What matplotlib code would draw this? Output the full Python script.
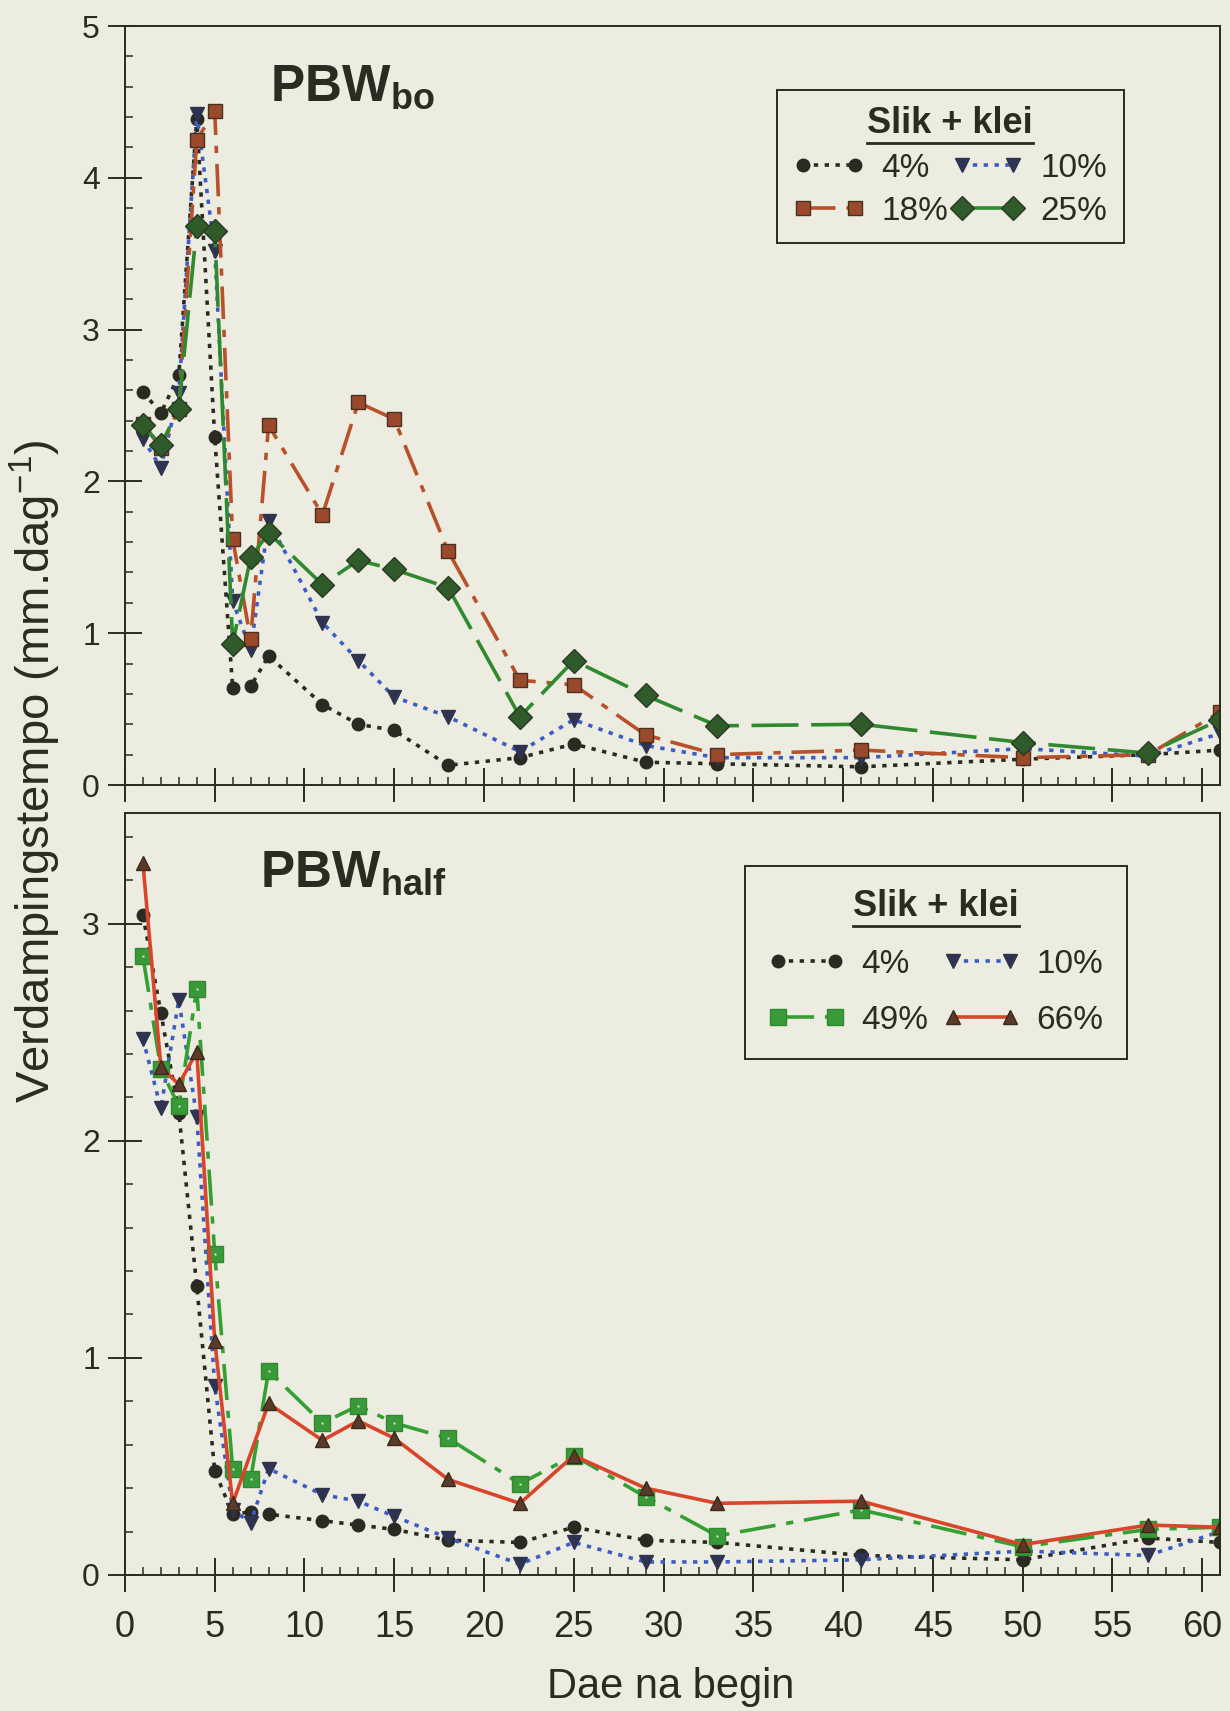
import numpy as np
import matplotlib
matplotlib.use("Agg")
import matplotlib.pyplot as plt
from matplotlib.ticker import MultipleLocator
from matplotlib.lines import Line2D

plt.rcParams["font.family"] = ["Liberation Sans", "DejaVu Sans"]
plt.rcParams["mathtext.fontset"] = "custom"
plt.rcParams["mathtext.rm"] = "Liberation Sans"
plt.rcParams["mathtext.bf"] = "Liberation Sans:bold"

# dae na begin
dae = [1, 2, 3, 4, 5, 6, 7, 8, 11, 13, 15, 18, 22, 25, 29, 33, 41, 50, 57, 61]
dae_66 = [1, 2, 3, 4, 5, 6, 8, 11, 13, 15, 18, 22, 25, 29, 33, 41, 50, 57, 61]

# PBW bo
bo_4 = [2.59, 2.45, 2.70, 4.39, 2.29, 0.64, 0.65, 0.85, 0.53, 0.40, 0.36, 0.13,
        0.18, 0.27, 0.15, 0.14, 0.12, 0.17, 0.20, 0.23]
bo_10 = [2.28, 2.09, 2.58, 4.42, 3.52, 1.21, 0.89, 1.74, 1.07, 0.82, 0.58, 0.45,
         0.22, 0.43, 0.26, 0.18, 0.18, 0.24, 0.19, 0.34]
bo_18 = [2.38, 2.22, 2.48, 4.25, 4.44, 1.62, 0.96, 2.37, 1.78, 2.52, 2.41, 1.54,
         0.69, 0.66, 0.33, 0.20, 0.23, 0.18, 0.20, 0.48]
bo_25 = [2.37, 2.24, 2.48, 3.68, 3.65, 0.93, 1.50, 1.66, 1.32, 1.48, 1.42, 1.30,
         0.45, 0.82, 0.59, 0.39, 0.40, 0.28, 0.21, 0.43]

# PBW half
half_4 = [3.04, 2.59, 2.13, 1.33, 0.48, 0.28, 0.29, 0.28, 0.25, 0.23, 0.21, 0.16,
          0.15, 0.22, 0.16, 0.15, 0.09, 0.07, 0.17, 0.15]
half_10 = [2.47, 2.15, 2.65, 2.11, 0.87, 0.30, 0.24, 0.49, 0.37, 0.34, 0.27, 0.17,
           0.05, 0.15, 0.06, 0.06, 0.07, 0.11, 0.09, 0.20]
half_49 = [2.85, 2.33, 2.16, 2.70, 1.48, 0.49, 0.44, 0.94, 0.70, 0.78, 0.70, 0.63,
           0.42, 0.55, 0.36, 0.18, 0.30, 0.13, 0.21, 0.22]
half_66 = [3.28, 2.34, 2.26, 2.41, 1.08, 0.33, 0.79, 0.62, 0.71, 0.63, 0.44, 0.33,
           0.55, 0.40, 0.33, 0.34, 0.14, 0.23, 0.22]

bg = "#ecece0"
ink = "#2b2b22"

fig = plt.figure(figsize=(12.3, 17.11), dpi=100, facecolor=bg)
ax1 = fig.add_axes([0.1016, 0.5412, 0.8903, 0.4436], facecolor=bg)
ax2 = fig.add_axes([0.1016, 0.0795, 0.8903, 0.4453], facecolor=bg)


def opmaak(ax, ytop, ymajor):
    ax.set_xlim(0, 61)
    ax.set_ylim(0, ytop)
    ax.xaxis.set_major_locator(MultipleLocator(5))
    ax.xaxis.set_minor_locator(MultipleLocator(1))
    ax.yaxis.set_major_locator(MultipleLocator(ymajor))
    ax.yaxis.set_minor_locator(MultipleLocator(0.2))
    ax.tick_params(which="major", direction="inout", length=24, width=1.4, color=ink)
    ax.tick_params(which="minor", direction="in", length=6, width=1.1, color=ink)
    ax.tick_params(axis="x", which="major", labelsize=26, pad=13, labelcolor=ink)
    ax.tick_params(axis="y", which="major", labelsize=23, pad=6, labelcolor=ink)
    for s in ax.spines.values():
        s.set_color(ink)
        s.set_linewidth(1.4)


opmaak(ax1, 5, 1)
opmaak(ax2, 3.51, 1)
ax1.tick_params(axis="x", labelbottom=False)
ax2.set_yticks([0, 1, 2, 3])

ms = dict(markersize=9)
l4, = ax1.plot(dae, bo_4, color="#2a2a22", lw=2.6, ls=(0, (1.2, 1.8)),
               marker="o", mfc="#2a2a22", mec="#2a2a22", **ms)
l10, = ax1.plot(dae, bo_10, color="#3b5cc4", lw=2.6, ls=(0, (1.2, 1.8)),
                marker="v", mfc="#2e3350", mec="#2e3350", markersize=10)
l18, = ax1.plot(dae, bo_18, color="#b8502a", lw=2.6, ls=(0, (9, 3, 2, 3)),
                marker="s", mfc="#9a4a2a", mec="#4a3020", markersize=10)
l25, = ax1.plot(dae, bo_25, color="#2f8a2f", lw=2.6, ls=(0, (13, 3.5)),
                marker="D", mfc="#2f5a2a", mec="#2a3a22", markersize=12)

h4, = ax2.plot(dae, half_4, color="#2a2a22", lw=2.6, ls=(0, (1.2, 1.8)),
               marker="o", mfc="#2a2a22", mec="#2a2a22", **ms)
h10, = ax2.plot(dae, half_10, color="#3b5cc4", lw=2.6, ls=(0, (1.2, 1.8)),
                marker="v", mfc="#2e3350", mec="#2e3350", markersize=10)
h49, = ax2.plot(dae, half_49, color="#33a033", lw=2.6, ls=(0, (10, 3, 2, 3)),
                marker="s", mfc="#3a9a3a", mec="#2f8a2f", markersize=11)
ax2.plot(dae, half_49, ls="none", marker="s", mfc="#d8e8c8", mec="none", markersize=2)
h66, = ax2.plot(dae_66, half_66, color="#d8452a", lw=2.6, ls="-",
                marker="^", mfc="#5a3a28", mec="#3a2a1a", markersize=10)

ax1.text(8.1, 4.51, r"$\mathbf{PBW}_{\mathbf{bo}}$", fontsize=37, color=ink)
ax2.text(7.5, 3.17, r"$\mathbf{PBW}_{\mathbf{half}}$", fontsize=37, color=ink)

leg_kw = dict(ncol=2, title="Slik + klei", numpoints=2, handletextpad=0.5,
              fancybox=False, framealpha=1, facecolor=bg, edgecolor=ink,
              loc="upper right", borderaxespad=0, fontsize=24)
leg1 = ax1.legend([l4, l18, l10, l25], ["4%", "18%", "10%", "25%"],
                  bbox_to_anchor=(0.912, 0.916), handlelength=2.15,
                  columnspacing=0.1, labelspacing=0.35, borderpad=0.5, **leg_kw)
leg2 = ax2.legend([h4, h49, h10, h66], ["4%", "49%", "10%", "66%"],
                  bbox_to_anchor=(0.915, 0.931), handlelength=2.3,
                  columnspacing=0.45, labelspacing=0.75, borderpad=0.7, **leg_kw)
for leg in (leg1, leg2):
    leg.get_frame().set_linewidth(1.4)
    leg.get_title().set_fontsize(26)
    leg.get_title().set_fontweight("bold")
    leg.get_title().set_color(ink)
    for t in leg.get_texts():
        t.set_color(ink)

fig.text(35 / 1230, 1 - 771 / 1711, "Verdampingstempo (mm.dag$^{-1}$)",
         rotation=90, fontsize=34, ha="center", va="center", color=ink)
fig.text(671 / 1230, 1 - 1687 / 1711, "Dae na begin",
         fontsize=30, ha="center", va="center", color=ink)

# streep onder die legendetitels
fig.canvas.draw()
W, H = fig.bbox.width, fig.bbox.height
for leg in (leg1, leg2):
    bb = leg.get_title().get_window_extent()
    y = bb.y0 - 2
    fig.add_artist(Line2D([bb.x0 / W, bb.x1 / W], [y / H, y / H],
                          transform=fig.transFigure, color=ink, lw=2))

fig.savefig("out.png", dpi=100, facecolor=bg)
